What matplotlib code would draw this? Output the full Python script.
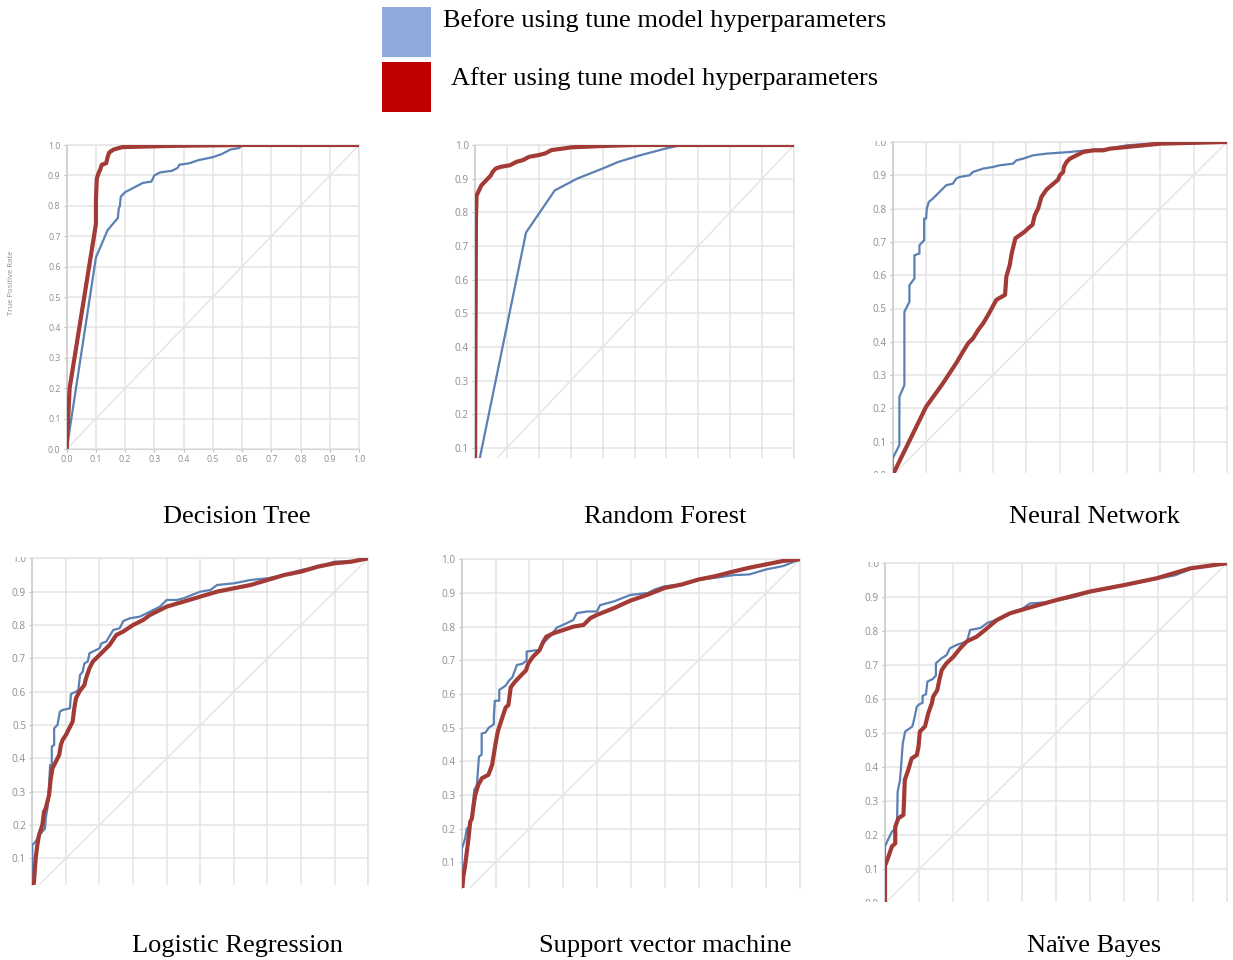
# ROC curves before / after hyperparameter tuning, six classifiers

import matplotlib
matplotlib.use('Agg')
import matplotlib.pyplot as plt
from matplotlib.patches import Rectangle

W, H = 1233, 960

legend_labels = ['Before using tune model hyperparameters',
                 'After using tune model hyperparameters']
titles = ['Decision Tree', 'Random Forest', 'Neural Network',
          'Logistic Regression', 'Support vector machine', 'Naïve Bayes']
tick_values = [0.0, 0.1, 0.2, 0.3, 0.4, 0.5, 0.6, 0.7, 0.8, 0.9, 1.0]
tick_labels = ['0.0', '0.1', '0.2', '0.3', '0.4', '0.5', '0.6', '0.7', '0.8', '0.9', '1.0']

# Decision Tree
dt_before_fpr = [0, 0.10, 0.14, 0.175, 0.178, 0.182, 0.185, 0.20, 0.23, 0.26, 0.29, 0.30, 0.32, 0.36,
                 0.38, 0.385, 0.42, 0.45, 0.50, 0.53, 0.56, 0.59, 0.60, 1.0]
dt_before_tpr = [0, 0.63, 0.72, 0.76, 0.79, 0.80, 0.83, 0.845, 0.86, 0.875, 0.88, 0.90, 0.91, 0.915,
                 0.925, 0.935, 0.94, 0.95, 0.96, 0.97, 0.985, 0.99, 1.0, 1.0]
dt_after_fpr = [0, 0.01, 0.10, 0.10, 0.103, 0.11, 0.115, 0.12, 0.135, 0.14, 0.145, 0.16, 0.19, 0.35, 0.6, 1.0]
dt_after_tpr = [0, 0.20, 0.74, 0.82, 0.89, 0.91, 0.92, 0.935, 0.94, 0.96, 0.975, 0.985, 0.993, 0.997, 1.0, 1.0]

# Random Forest
rf_before_fpr = [0, 0.16, 0.25, 0.32, 0.40, 0.45, 0.52, 0.60, 0.65, 1.0]
rf_before_tpr = [0, 0.74, 0.865, 0.90, 0.93, 0.95, 0.97, 0.99, 1.0, 1.0]
rf_after_fpr = [0, 0.003, 0.005, 0.01, 0.015, 0.02, 0.03, 0.04, 0.05, 0.055, 0.065, 0.08, 0.11, 0.13,
                0.15, 0.17, 0.20, 0.22, 0.24, 0.28, 0.30, 0.40, 0.50, 1.0]
rf_after_tpr = [0, 0.78, 0.85, 0.86, 0.87, 0.88, 0.89, 0.90, 0.91, 0.92, 0.93, 0.935, 0.94, 0.95,
                0.955, 0.965, 0.97, 0.975, 0.985, 0.99, 0.993, 0.997, 1.0, 1.0]

# Neural Network
nn_before_fpr = [0, 0, 0.02, 0.02, 0.035, 0.035, 0.05, 0.05, 0.065, 0.065, 0.08, 0.08, 0.094, 0.094,
                 0.10, 0.102, 0.108, 0.12, 0.13, 0.14, 0.15, 0.16, 0.18, 0.19, 0.20, 0.23, 0.24, 0.27,
                 0.30, 0.32, 0.36, 0.37, 0.39, 0.42, 0.46, 0.53, 0.58, 0.65, 0.70, 0.80, 1.0]
nn_before_tpr = [0, 0.05, 0.09, 0.235, 0.27, 0.49, 0.52, 0.57, 0.59, 0.66, 0.665, 0.69, 0.705, 0.77,
                 0.77, 0.80, 0.82, 0.83, 0.84, 0.85, 0.86, 0.87, 0.875, 0.89, 0.895, 0.90, 0.91, 0.92,
                 0.925, 0.93, 0.935, 0.945, 0.95, 0.96, 0.965, 0.97, 0.975, 0.98, 0.99, 0.997, 1.0]
nn_after_fpr = [0, 0.10, 0.15, 0.19, 0.21, 0.226, 0.24, 0.256, 0.271, 0.285, 0.296, 0.31, 0.336, 0.34,
                0.35, 0.356, 0.367, 0.38, 0.395, 0.41, 0.418, 0.425, 0.435, 0.445, 0.46, 0.475, 0.495,
                0.50, 0.51, 0.512, 0.52, 0.53, 0.55, 0.57, 0.60, 0.63, 0.65, 0.70, 0.75, 0.80, 1.0]
nn_after_tpr = [0, 0.205, 0.275, 0.336, 0.37, 0.396, 0.41, 0.436, 0.456, 0.48, 0.50, 0.526, 0.541, 0.596,
                0.63, 0.666, 0.711, 0.72, 0.731, 0.745, 0.751, 0.78, 0.80, 0.835, 0.857, 0.87, 0.887,
                0.90, 0.91, 0.925, 0.94, 0.95, 0.96, 0.97, 0.975, 0.975, 0.98, 0.985, 0.99, 0.995, 1.0]

# Logistic Regression
lr_before_fpr = [0, 0, 0.01, 0.02, 0.03, 0.038, 0.04, 0.045, 0.048, 0.053, 0.058, 0.058, 0.065, 0.065,
                 0.075, 0.082, 0.09, 0.112, 0.115, 0.13, 0.137, 0.142, 0.15, 0.155, 0.165, 0.17, 0.19,
                 0.2, 0.206, 0.22, 0.241, 0.26, 0.271, 0.29, 0.32, 0.35, 0.38, 0.40, 0.43, 0.45, 0.50,
                 0.53, 0.55, 0.60, 0.65, 0.70, 0.75, 0.80, 0.85, 0.90, 0.95, 1.0]
lr_before_tpr = [0, 0.14, 0.15, 0.17, 0.18, 0.19, 0.22, 0.25, 0.28, 0.38, 0.38, 0.435, 0.44, 0.49,
                 0.50, 0.54, 0.545, 0.55, 0.593, 0.60, 0.605, 0.65, 0.66, 0.685, 0.69, 0.715, 0.725,
                 0.73, 0.745, 0.75, 0.785, 0.79, 0.812, 0.82, 0.825, 0.84, 0.855, 0.875, 0.875, 0.88, 0.90,
                 0.905, 0.92, 0.925, 0.935, 0.94, 0.95, 0.965, 0.975, 0.99, 0.99, 1.0]
lr_after_fpr = [0, 0.005, 0.01, 0.015, 0.02, 0.03, 0.035, 0.04, 0.05, 0.055, 0.06, 0.07, 0.08, 0.085,
                0.09, 0.10, 0.11, 0.12, 0.125, 0.13, 0.14, 0.155, 0.16, 0.17, 0.18, 0.19, 0.21, 0.23,
                0.25, 0.27, 0.30, 0.33, 0.35, 0.38, 0.40, 0.45, 0.50, 0.55, 0.60, 0.65, 0.70, 0.75,
                0.80, 0.85, 0.90, 0.95, 1.0]
lr_after_tpr = [0, 0.03, 0.10, 0.14, 0.17, 0.20, 0.24, 0.25, 0.29, 0.34, 0.37, 0.39, 0.41, 0.44,
                0.455, 0.47, 0.49, 0.51, 0.55, 0.58, 0.60, 0.62, 0.64, 0.67, 0.69, 0.70, 0.72, 0.74,
                0.77, 0.78, 0.80, 0.815, 0.83, 0.845, 0.855, 0.87, 0.885, 0.90, 0.91, 0.92, 0.935, 0.95,
                0.96, 0.975, 0.985, 0.99, 1.0]

# Support vector machine
svm_before_fpr = [0, 0, 0.01, 0.015, 0.025, 0.03, 0.037, 0.045, 0.051, 0.059, 0.059, 0.07, 0.08, 0.095,
                  0.095, 0.098, 0.111, 0.111, 0.13, 0.14, 0.15, 0.163, 0.18, 0.192, 0.192, 0.22, 0.23,
                  0.24, 0.26, 0.281, 0.31, 0.33, 0.34, 0.37, 0.40, 0.409, 0.45, 0.498, 0.55, 0.57, 0.60,
                  0.65, 0.70, 0.75, 0.803, 0.85, 0.90, 0.95, 1.0]
svm_before_tpr = [0, 0.14, 0.17, 0.20, 0.21, 0.24, 0.315, 0.33, 0.414, 0.42, 0.483, 0.485, 0.50, 0.51,
                  0.535, 0.58, 0.58, 0.612, 0.625, 0.64, 0.65, 0.686, 0.69, 0.70, 0.726, 0.73, 0.73,
                  0.75, 0.77, 0.797, 0.81, 0.82, 0.84, 0.845, 0.845, 0.864, 0.875, 0.894, 0.90, 0.91, 0.92,
                  0.925, 0.939, 0.945, 0.953, 0.955, 0.97, 0.98, 1.0]
svm_after_fpr = [0, 0.005, 0.01, 0.015, 0.02, 0.025, 0.03, 0.036, 0.04, 0.049, 0.06, 0.079, 0.09, 0.098,
                 0.105, 0.108, 0.12, 0.13, 0.138, 0.145, 0.158, 0.18, 0.19, 0.197, 0.21, 0.22, 0.23,
                 0.241, 0.25, 0.27, 0.30, 0.33, 0.36, 0.38, 0.40, 0.45, 0.498, 0.55, 0.60, 0.65, 0.70,
                 0.75, 0.80, 0.85, 0.90, 0.95, 1.0]
svm_after_tpr = [0, 0.06, 0.09, 0.13, 0.17, 0.22, 0.23, 0.275, 0.30, 0.33, 0.35, 0.36, 0.39, 0.44,
                 0.48, 0.493, 0.53, 0.56, 0.567, 0.62, 0.637, 0.66, 0.67, 0.691, 0.71, 0.72, 0.73,
                 0.755, 0.77, 0.78, 0.79, 0.80, 0.805, 0.825, 0.835, 0.855, 0.877, 0.895, 0.915, 0.925, 0.94,
                 0.95, 0.963, 0.975, 0.985, 0.995, 1.0]

# Naive Bayes
nb_before_fpr = [0, 0, 0.01, 0.015, 0.02, 0.03, 0.035, 0.037, 0.044, 0.052, 0.059, 0.08, 0.085, 0.093,
                 0.10, 0.11, 0.11, 0.12, 0.124, 0.14, 0.149, 0.149, 0.165, 0.18, 0.19, 0.21, 0.24, 0.249,
                 0.28, 0.30, 0.33, 0.36, 0.40, 0.424, 0.47, 0.50, 0.55, 0.60, 0.65, 0.70, 0.75, 0.80,
                 0.85, 0.90, 0.95, 1.0]
nb_before_tpr = [0, 0.167, 0.19, 0.20, 0.21, 0.22, 0.23, 0.328, 0.363, 0.47, 0.505, 0.52, 0.54, 0.578,
                 0.585, 0.59, 0.61, 0.615, 0.652, 0.66, 0.67, 0.706, 0.72, 0.73, 0.75, 0.76, 0.77, 0.804,
                 0.81, 0.825, 0.835, 0.85, 0.865, 0.882, 0.885, 0.89, 0.90, 0.915, 0.925, 0.935, 0.945, 0.955,
                 0.965, 0.985, 0.993, 1.0]
nb_after_fpr = [0, 0, 0.01, 0.02, 0.03, 0.03, 0.039, 0.054, 0.058, 0.068, 0.078, 0.093, 0.098, 0.102,
                0.117, 0.127, 0.137, 0.141, 0.153, 0.159, 0.166, 0.18, 0.20, 0.22, 0.239, 0.268, 0.288,
                0.327, 0.366, 0.434, 0.502, 0.60, 0.70, 0.795, 0.893, 0.95, 1.0]
nb_after_tpr = [0, 0.11, 0.137, 0.167, 0.176, 0.225, 0.25, 0.26, 0.363, 0.392, 0.426, 0.436, 0.46, 0.505,
                0.52, 0.56, 0.588, 0.608, 0.627, 0.657, 0.686, 0.706, 0.725, 0.75, 0.77, 0.784, 0.80,
                0.833, 0.853, 0.873, 0.892, 0.917, 0.936, 0.956, 0.985, 0.993, 1.0]

curves = [
    (dt_before_fpr, dt_before_tpr, dt_after_fpr, dt_after_tpr),
    (rf_before_fpr, rf_before_tpr, rf_after_fpr, rf_after_tpr),
    (nn_before_fpr, nn_before_tpr, nn_after_fpr, nn_after_tpr),
    (lr_before_fpr, lr_before_tpr, lr_after_fpr, lr_after_tpr),
    (svm_before_fpr, svm_before_tpr, svm_after_fpr, svm_after_tpr),
    (nb_before_fpr, nb_before_tpr, nb_after_fpr, nb_after_tpr),
]

# layout in pixels: x of fpr=0, x of fpr=1, y of top, y of bottom, ylim bottom
boxes = [
    (66.7, 359.0, 145.0, 449.0, 0.0),
    (475.0, 794.0, 145.0, 458.0, 0.07),
    (892.7, 1227.0, 142.0, 475.0, 0.0),
    (32.3, 368.3, 558.3, 885.0, 0.02),
    (461.7, 800.0, 559.3, 888.3, 0.023),
    (885.0, 1226.7, 563.3, 903.3, 0.0),
]
title_pos = [(237, 523), (665, 523), (1094, 523), (237, 952), (665, 952), (1094, 952)]

BLUE = '#5b80b3'
RED = '#a23a36'
GRID = '#e4e4e4'
TICK = '#8e8e8e'
SERIF = ['Liberation Serif', 'DejaVu Serif']

fig = plt.figure(figsize=(W / 100, H / 100), dpi=100)


def px_rect(x0, x1, ytop, ybot):
    return [x0 / W, 1 - ybot / H, (x1 - x0) / W, (ybot - ytop) / H]


for i, (x0, x1, yt, yb, ymin) in enumerate(boxes):
    ax = fig.add_axes(px_rect(x0, x1, yt, yb))
    bf, bt, af, at = curves[i]
    ax.plot([0, 1], [0, 1], color=GRID, lw=1.0, zorder=1)
    ax.plot(bf, bt, color=BLUE, lw=1.6, zorder=3, solid_joinstyle='round')
    ax.plot(af, at, color=RED, lw=3.0, zorder=4, solid_joinstyle='round')
    ax.set_xlim(0, 1)
    ax.set_ylim(ymin, 1)
    ax.set_xticks(tick_values)
    ax.set_yticks([v for v in tick_values if v >= ymin - 1e-9])
    ax.set_yticklabels([l for v, l in zip(tick_values, tick_labels) if v >= ymin - 1e-9])
    ax.grid(True, color=GRID, lw=1.1)
    ax.set_axisbelow(True)
    fs = 6.3 if i == 0 else 7.2
    ax.tick_params(axis='y', length=2.5, width=0.8, color='#bbbbbb', labelsize=fs,
                   labelcolor=TICK, pad=2)
    for lab in ax.get_yticklabels():
        lab.set_family('Open Sans')
    if i == 0:
        ax.set_xticklabels(tick_labels)
        ax.tick_params(axis='x', length=2.5, width=0.8, color='#bbbbbb', labelsize=fs,
                       labelcolor=TICK, pad=2)
        for lab in ax.get_xticklabels():
            lab.set_family('Open Sans')
        ax.set_ylabel('True Positive Rate', fontsize=5.6, color=TICK, family='Open Sans')
        ax.yaxis.set_label_coords(-0.177, 0.546)
    else:
        ax.tick_params(axis='x', length=0, labelbottom=False)
    for side in ['top', 'right']:
        ax.spines[side].set_color(GRID)
        ax.spines[side].set_linewidth(1.1)
    ax.spines['left'].set_color('#cfcfcf')
    ax.spines['left'].set_linewidth(1.3)
    if i == 0:
        ax.spines['bottom'].set_color('#d6d6d6')
    else:
        ax.spines['bottom'].set_visible(False)
    ax.patch.set_visible(False)

    tx, ty = title_pos[i]
    fig.text(tx / W, 1 - ty / H, titles[i], ha='center', va='baseline',
             fontsize=19, family=SERIF, color='black')

# image crop edges that cut through some tick labels
crops = [(850, 1233, 120, 141.3), (850, 1233, 472.5, 492),
         (0, 380, 535, 557.2), (850, 1233, 540, 562.3), (850, 1233, 901.5, 918)]
for cx0, cx1, cy0, cy1 in crops:
    fig.add_artist(Rectangle((cx0 / W, 1 - cy1 / H), (cx1 - cx0) / W, (cy1 - cy0) / H,
                             transform=fig.transFigure, facecolor='white', edgecolor='none',
                             zorder=20))

# legend at the top
fig.add_artist(Rectangle((382 / W, 1 - 57 / H), 49 / W, 50 / H, transform=fig.transFigure,
                         facecolor='#8eaadb', edgecolor='none'))
fig.add_artist(Rectangle((382 / W, 1 - 112 / H), 49 / W, 50 / H, transform=fig.transFigure,
                         facecolor='#c00000', edgecolor='none'))
fig.text(443 / W, 1 - 27 / H, legend_labels[0], ha='left', va='baseline', fontsize=19,
         family=SERIF, color='black')
fig.text(451 / W, 1 - 85 / H, legend_labels[1], ha='left', va='baseline', fontsize=19,
         family=SERIF, color='black')

fig.savefig('out.png', dpi=100, facecolor='white')
